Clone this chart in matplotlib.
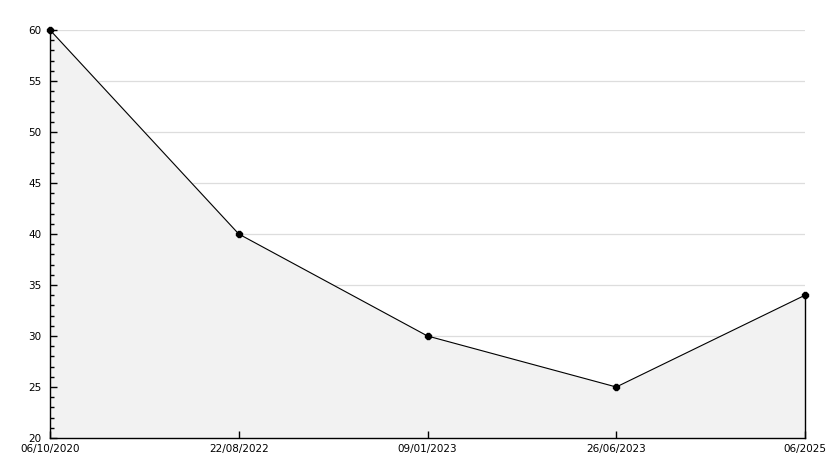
import matplotlib
matplotlib.use("Agg")
import matplotlib.pyplot as plt
from matplotlib.ticker import MultipleLocator

# dati
date_labels = ["06/10/2020", "22/08/2022", "09/01/2023", "26/06/2023", "06/2025"]
valori = [60, 40, 30, 25, 34]
y_min, y_max = 20, 60

fig = plt.figure(figsize=(8.34, 4.68), dpi=100)
ax = fig.add_axes([50 / 834, 30 / 468, 755 / 834, 408 / 468])

x = list(range(len(valori)))

# griglia dietro l'area (nascosta dal riempimento)
for yv in range(y_min + 5, y_max + 1, 5):
    ax.axhline(yv, color="#dddddd", linewidth=0.9, zorder=0)

ax.fill_between(x, valori, y_min, color="#f2f2f2", zorder=1)
ax.plot(x, valori, color="black", linewidth=0.8, marker="8", markersize=5,
        zorder=4, clip_on=False)
# bordo destro dell'area
ax.plot([x[-1], x[-1]], [y_min, valori[-1]], color="black", linewidth=1.0,
        zorder=3, clip_on=False)

ax.set_xlim(0, len(valori) - 1)
ax.set_ylim(y_min, y_max)
ax.set_xticks(x)
ax.set_xticklabels(date_labels)
ax.yaxis.set_major_locator(MultipleLocator(5))
ax.yaxis.set_minor_locator(MultipleLocator(1))

for lato in ["top", "right"]:
    ax.spines[lato].set_visible(False)
for lato in ["left", "bottom"]:
    ax.spines[lato].set_linewidth(1.0)

ax.tick_params(axis="y", which="major", direction="in", length=5, width=1, labelsize=7.5, pad=6)
ax.tick_params(axis="y", which="minor", direction="in", length=3, width=1)
ax.tick_params(axis="x", which="major", direction="in", length=5, width=1, labelsize=7.5, pad=4)

fig.savefig("out.png", dpi=100)
plt.close(fig)
